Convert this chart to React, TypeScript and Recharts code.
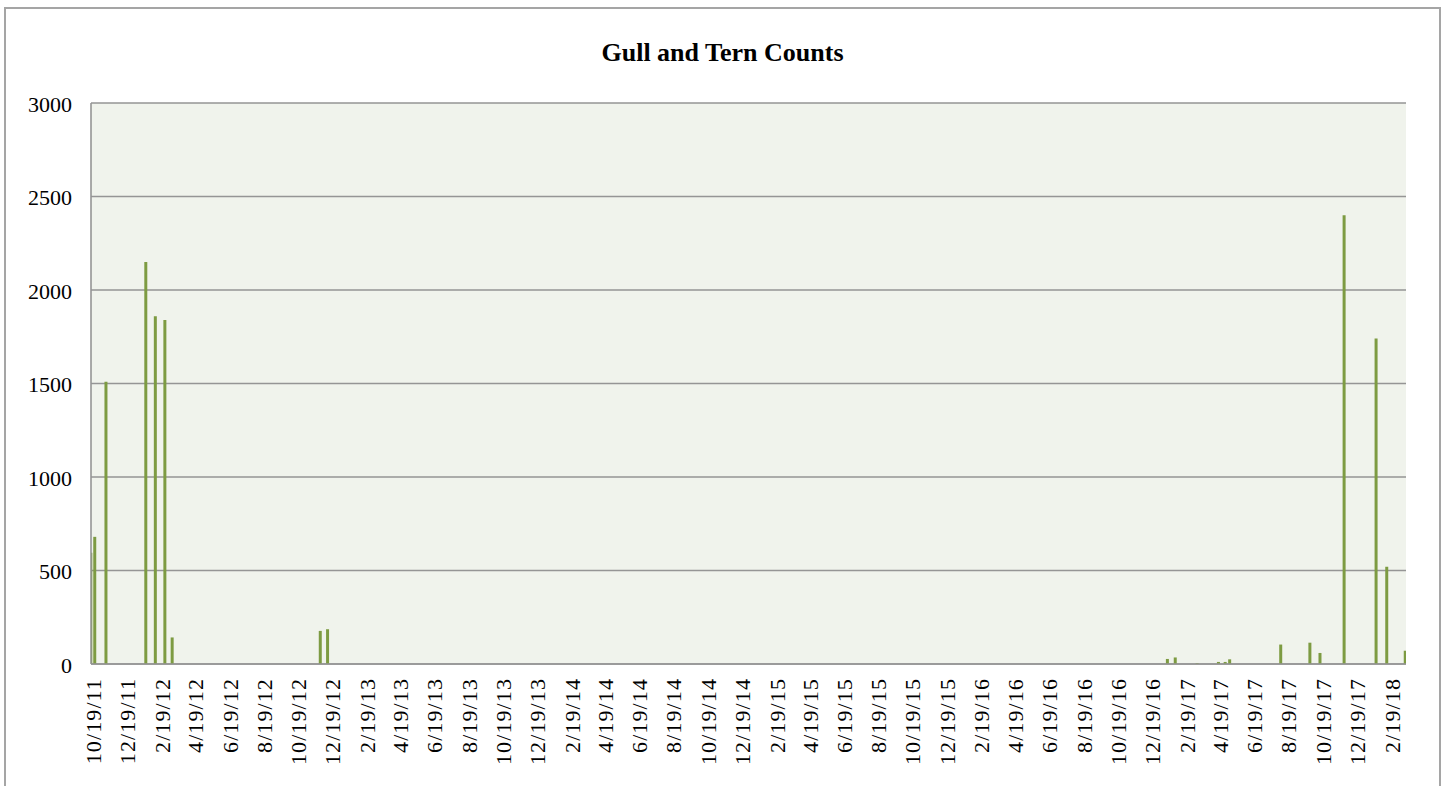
import React from 'react';
import { BarChart, Bar, XAxis, YAxis, CartesianGrid } from 'recharts';

// survey dates and gull/tern totals
const surveyDates = [
  '2011-10-19', '2011-10-26', '2011-11-15', '2012-01-25', '2012-02-11', '2012-02-28', '2012-03-12',
  '2012-12-01', '2012-12-14',
  '2017-01-19', '2017-02-02', '2017-03-13', '2017-04-20', '2017-05-02', '2017-05-10',
  '2017-08-09', '2017-09-30', '2017-10-18', '2017-11-30', '2018-01-26', '2018-02-14', '2018-03-19',
];
const birdCounts = [
  595, 680, 1510, 2150, 1860, 1840, 142,
  177, 186,
  27, 35, 5, 11, 11, 25,
  104, 114, 59, 2400, 1740, 520, 71,
];

const dateTickLabels = [
  '10/19/11', '12/19/11', '2/19/12', '4/19/12', '6/19/12', '8/19/12', '10/19/12', '12/19/12',
  '2/19/13', '4/19/13', '6/19/13', '8/19/13', '10/19/13', '12/19/13',
  '2/19/14', '4/19/14', '6/19/14', '8/19/14', '10/19/14', '12/19/14',
  '2/19/15', '4/19/15', '6/19/15', '8/19/15', '10/19/15', '12/19/15',
  '2/19/16', '4/19/16', '6/19/16', '8/19/16', '10/19/16', '12/19/16',
  '2/19/17', '4/19/17', '6/19/17', '8/19/17', '10/19/17', '12/19/17',
  '2/19/18',
];
const countTicks = [0, 500, 1000, 1500, 2000, 2500, 3000];

const DAY = 86400000;
const baseTime = Date.parse(surveyDates[0]);
const isoToDay = (iso: string) => Math.round((Date.parse(iso) - baseTime) / DAY);
const labelToDay = (label: string) => {
  const [m, d, y] = label.split('/').map(Number);
  return Math.round((Date.UTC(2000 + y, m - 1, d) - baseTime) / DAY);
};

const data = surveyDates.map((d, i) => ({ day: isoToDay(d), count: birdCounts[i] }));
const tickDays = dateTickLabels.map(labelToDay);
const labelByDay: Record<number, string> = {};
tickDays.forEach((d, i) => { labelByDay[d] = dateTickLabels[i]; });

const firstDay = data[0].day;
const lastDay = data[data.length - 1].day;

const FONT = '"Liberation Serif", "Times New Roman", serif';

const DateTick = ({ x, y, payload }: any) => (
  <text
    x={x}
    y={y}
    dy={2}
    transform={`rotate(-90 ${x} ${y})`}
    textAnchor="end"
    dominantBaseline="central"
    fontFamily={FONT}
    fontSize={22}
    letterSpacing={1.1}
    fill="#000"
  >
    {labelByDay[payload.value]}
  </text>
);

const App: React.FC = () => {
  return (
    <div style={{ position: 'absolute', left: 0, top: 0, width: 1448, height: 786, overflow: 'hidden', background: '#fff' }}>
      {/* chart frame */}
      <div style={{ position: 'absolute', left: 4, top: 7, width: 1437, height: 900, border: '2px solid #a5a5a5', boxSizing: 'border-box' }} />
      <div
        style={{
          position: 'absolute', left: 5, width: 1435, top: 40, textAlign: 'center',
          fontFamily: FONT, fontWeight: 'bold', fontSize: 26, lineHeight: '26px', color: '#000',
        }}
      >
        Gull and Tern Counts
      </div>
      <div style={{ position: 'absolute', left: 0, top: 0 }}>
        <BarChart width={1448} height={786} data={data} margin={{ top: 103, right: 42, bottom: 0, left: 0 }}>
          <CartesianGrid vertical={false} stroke="#959595" strokeWidth={1.6} fill="#f0f3ec" />
          <XAxis
            dataKey="day"
            type="number"
            domain={[firstDay - 0.5, lastDay + 0.5]}
            ticks={tickDays}
            interval={0}
            allowDataOverflow
            height={122}
            tickLine={false}
            tickSize={0}
            tickMargin={14}
            axisLine={{ stroke: '#959595', strokeWidth: 1.6 }}
            tick={<DateTick />}
          />
          <YAxis
            type="number"
            domain={[0, 3000]}
            ticks={countTicks}
            width={91}
            tickLine={false}
            tickSize={0}
            tickMargin={19}
            axisLine={{ stroke: '#959595', strokeWidth: 1.6 }}
            tick={{ fontFamily: FONT, fontSize: 22, fill: '#000', dy: 1 }}
          />
          <Bar dataKey="count" fill="#7d9b42" barSize={3} isAnimationActive={false} />
        </BarChart>
      </div>
    </div>
  );
};

export default App;
